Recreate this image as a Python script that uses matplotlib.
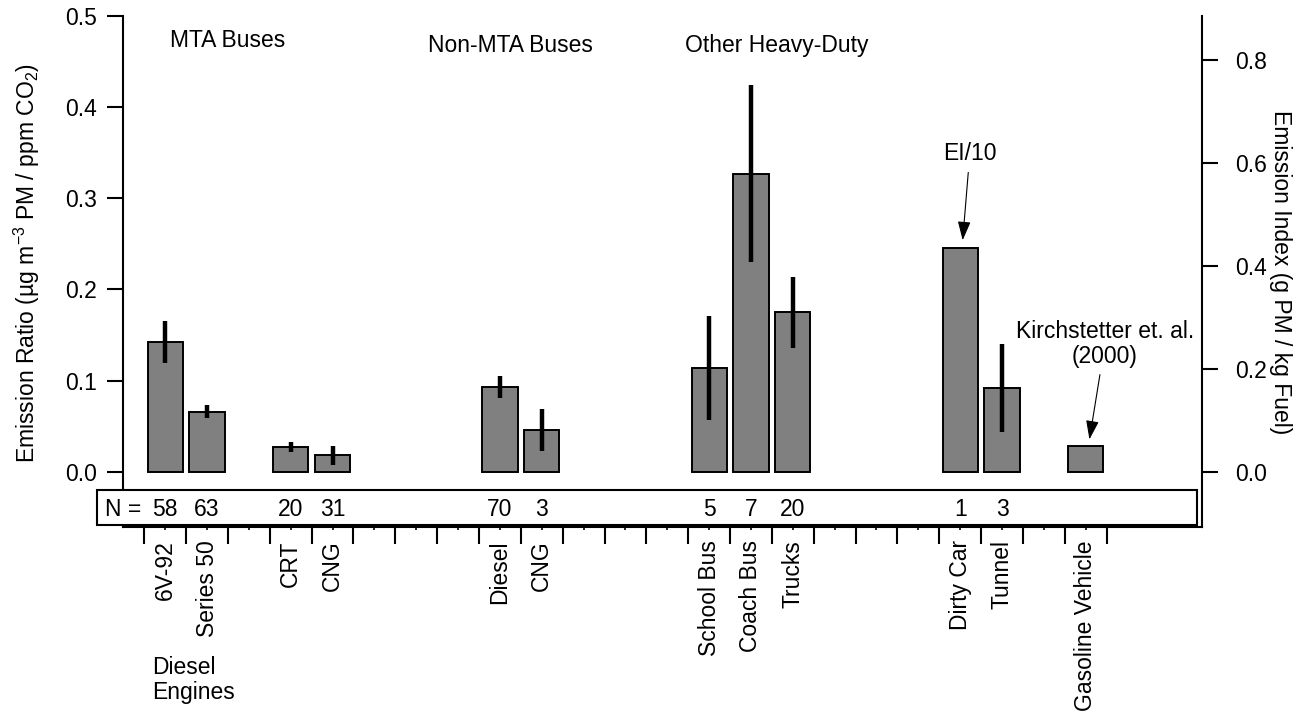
import numpy as np
import matplotlib
matplotlib.use('Agg')
import matplotlib.pyplot as plt
from matplotlib.patches import Rectangle

plt.rcParams['font.family'] = ['Liberation Sans', 'DejaVu Sans']
plt.rcParams['font.size'] = 16.5
plt.rcParams['mathtext.default'] = 'regular'

# category slots along the x axis (empty slots separate the groups)
slots = [0, 1, 3, 4, 8, 9, 13, 14, 15, 19, 20, 22]
labels = ['6V-92', 'Series 50', 'CRT', 'CNG', 'Diesel', 'CNG',
          'School Bus', 'Coach Bus', 'Trucks', 'Dirty Car', 'Tunnel',
          'Gasoline Vehicle']
ratio = [0.142, 0.066, 0.0275, 0.018, 0.093, 0.046,
         0.1135, 0.327, 0.175, 0.245, 0.092, 0.028]
ratio_err = [0.023, 0.007, 0.0055, 0.0105, 0.012, 0.023,
             0.057, 0.097, 0.039, 0.0, 0.048, 0.0]
n_obs = ['58', '63', '20', '31', '70', '3', '5', '7', '20', '1', '3', '']

groups = ['MTA Buses', 'Non-MTA Buses', 'Other Heavy-Duty']
group_x = [1.99, 8.75, 15.12]
group_y = [0.4663, 0.4608, 0.4608]

n_slots = 23
ei_per_er = 1.772   # g PM / kg fuel per (ug m-3 PM / ppm CO2)

fig = plt.figure(figsize=(13.07, 7.11), dpi=100)
ax = fig.add_axes([0.09411, 0.25879, 0.82555, 0.71871])

x = np.array(slots) + 0.5
y = np.array(ratio)
err = np.array(ratio_err)

ax.bar(x, y, width=0.84, color='#808080', edgecolor='black', linewidth=1.4, zorder=2)
has = err > 0
ax.errorbar(x[has], y[has], yerr=err[has], fmt='none', ecolor='black',
            elinewidth=3.2, capsize=0, zorder=3)

ax.set_xlim(-0.509, 25.28)
ax.set_ylim(-0.0607, 0.5)

# left axis
ax.set_yticks(np.arange(0, 0.51, 0.1))
ax.set_yticklabels(['%.1f' % v for v in np.arange(0, 0.51, 0.1)])
ax.tick_params(axis='y', length=11.5, width=1.5, pad=7, direction='out')
ax.set_ylabel('Emission Ratio (µg m$^{-3}$ PM / ppm CO$_2$)')
ax.yaxis.set_label_coords(-0.075, 0.5166)

# category axis: boundaries as major ticks, names on minor ticks
ax.set_xticks(np.arange(n_slots + 1))
ax.set_xticklabels([])
slot_names = [''] * n_slots
for s, lab in zip(slots, labels):
    slot_names[s] = lab
ax.set_xticks(np.arange(n_slots) + 0.5, minor=True)
ax.set_xticklabels(slot_names, minor=True, rotation=90)
ax.tick_params(axis='x', which='major', length=12.2, width=1.5, direction='out')
ax.tick_params(axis='x', which='minor', length=2.5, width=1.2, pad=7, direction='out')

for side in ['top', 'right']:
    ax.spines[side].set_visible(False)
for side in ['left', 'bottom']:
    ax.spines[side].set_linewidth(1.5)

# right axis in emission index units
ax2 = ax.twinx()
lo, hi = ax.get_ylim()
ax2.set_ylim(lo * ei_per_er, hi * ei_per_er)
ax2.set_yticks(np.arange(0, 0.81, 0.2))
ax2.set_yticklabels(['%.1f' % v for v in np.arange(0, 0.81, 0.2)])
ax2.tick_params(axis='y', length=11.5, width=1.5, pad=12.5, direction='out')
for side in ['top', 'left', 'bottom']:
    ax2.spines[side].set_visible(False)
ax2.spines['right'].set_linewidth(1.5)
ax2.set_ylabel('Emission Index (g PM / kg Fuel)', rotation=-90, va='center')
ax2.yaxis.set_label_coords(1.0732, 0.499)

# sample count strip
ax.add_patch(Rectangle((-1.13, -0.0585), 26.29, 0.0384, facecolor='white',
                       edgecolor='black', linewidth=1.5, clip_on=False, zorder=5))
ax.text(-0.94, -0.0489, 'N =', ha='left', va='baseline', zorder=6, clip_on=False)
for xi, n in zip(x, n_obs):
    ax.text(xi, -0.0489, n, ha='center', va='baseline', zorder=6, clip_on=False)

for g, gx, gy in zip(groups, group_x, group_y):
    ax.text(gx, gy, g, ha='center', va='baseline')

ax.text(0.184, -0.2022, 'Diesel\nEngines', ha='left', va='top',
        linespacing=1.1, clip_on=False)

arrow = dict(arrowstyle='-|>,head_length=0.7,head_width=0.24',
             color='black', lw=0.8, shrinkA=3, shrinkB=0)
ax.annotate('EI/10', xy=(x[9] + 0.06, y[9] + 0.009), xytext=(19.73, 0.3486),
            ha='center', va='center', arrowprops=arrow)
ax.annotate('Kirchstetter et. al.\n(2000)', xy=(x[11] + 0.09, y[11] + 0.0075),
            xytext=(22.96, 0.1403), ha='center', va='center',
            linespacing=1.1, arrowprops=arrow)

fig.savefig('out.png', dpi=100)
